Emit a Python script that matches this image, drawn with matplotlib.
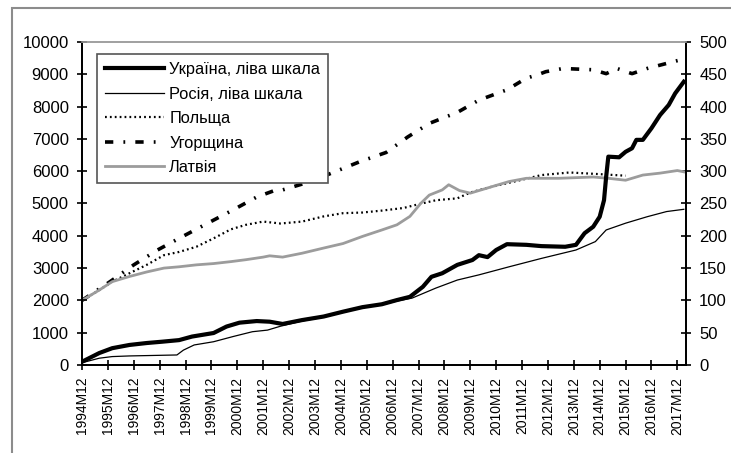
import matplotlib
matplotlib.use('Agg')
import matplotlib.pyplot as plt
from matplotlib.patches import Rectangle

plt.rcParams['font.family'] = ['Liberation Sans', 'DejaVu Sans']

# months since 1994M12
ukr_m = [0, 8, 14, 22, 30, 37, 45, 51, 61, 67, 73, 81, 87, 93, 102, 112, 121, 130, 139,
         146, 152, 158, 162, 167, 174, 181, 184, 188, 192, 197, 206, 213, 224, 229, 233,
         237, 240, 242, 243, 244, 249, 252, 255, 257, 260, 264, 268, 272, 275, 279]
ukr_v = [100, 370, 520, 620, 680, 720, 770, 880, 990, 1190, 1310, 1360, 1340, 1270, 1390,
         1500, 1650, 1790, 1880, 2010, 2110, 2420, 2730, 2840, 3100, 3250, 3400, 3340, 3560,
         3740, 3720, 3680, 3660, 3720, 4080, 4280, 4590, 5100, 5830, 6450, 6430, 6600, 6710,
         6970, 6970, 7330, 7740, 8050, 8410, 8770]

rus_m = [0, 8, 14, 22, 44, 47, 52, 61, 70, 79, 86, 92, 102, 112, 121, 130, 139, 146, 153,
         164, 174, 184, 198, 213, 229, 238, 243, 252, 262, 271, 279]
rus_v = [70, 210, 260, 280, 310, 460, 620, 720, 880, 1030, 1080, 1200, 1360, 1480, 1630,
         1770, 1860, 1980, 2070, 2380, 2630, 2790, 3040, 3300, 3560, 3820, 4180, 4390, 4590,
         4750, 4820]

pol_m = [0, 8, 14, 22, 30, 38, 45, 53, 61, 69, 76, 84, 92, 102, 112, 121, 130, 139, 149,
         155, 164, 174, 180, 190, 203, 213, 226, 237, 252]
pol_v = [100, 116, 129, 142, 155, 170, 175, 183, 196, 210, 217, 222, 219, 222, 230, 235,
         236, 239, 243, 248, 255, 258, 267, 276, 286, 294, 298, 296, 293]

hun_m = [0, 13, 24, 35, 45, 58, 70, 81, 90, 93, 106, 129, 141, 151, 161, 174, 184, 197,
         206, 211, 215, 223, 237, 243, 248, 255, 262, 277, 279]
hun_v = [100, 129, 155, 178, 196, 219, 240, 260, 271, 271, 284, 315, 329, 353, 374, 391,
         410, 426, 444, 449, 454, 459, 457, 451, 459, 451, 459, 472, 474]

lat_m = [0, 8, 14, 22, 30, 38, 45, 53, 61, 69, 76, 84, 87, 93, 102, 112, 121, 130, 139,
         146, 152, 157, 161, 167, 170, 175, 180, 190, 198, 206, 221, 237, 244, 252, 260,
         268, 276, 279]
lat_v = [100, 116, 129, 137, 144, 150, 152, 155, 157, 160, 163, 167, 169, 167, 173, 181,
         188, 199, 209, 217, 230, 250, 263, 271, 279, 270, 266, 276, 284, 289, 289, 291,
         289, 286, 294, 297, 301, 299]

tick_labels = [f'{y}M12' for y in range(1994, 2018)]

fig = plt.figure(figsize=(7.31, 4.53), dpi=100)
ax = fig.add_axes([0.1122, 0.1943, 0.8262, 0.7130])
ax2 = ax.twinx()

# outer chart frame
fig.patches.append(Rectangle((12 / 731, -0.05), 1.0, 1 - 8 / 453 + 0.05,
                             transform=fig.transFigure, fill=False,
                             edgecolor='#8c8c8c', linewidth=1.5))

l_hun, = ax2.plot(hun_m, hun_v, color='black', lw=2.6, dashes=(2.3, 2.8, 0.5, 2.8))
l_pol, = ax2.plot(pol_m, pol_v, color='black', lw=1.6, dashes=(0.8, 1.4))
l_lat, = ax2.plot(lat_m, lat_v, color='#9c9c9c', lw=2.0)
l_rus, = ax.plot(rus_m, rus_v, color='black', lw=0.9)
l_ukr, = ax.plot(ukr_m, ukr_v, color='black', lw=3.0)
ax.set_zorder(ax2.get_zorder() + 1)
ax.patch.set_visible(False)

ax.set_xlim(0, 280)
ax.set_ylim(0, 10000)
ax2.set_ylim(0, 500)
ax.set_yticks(range(0, 10001, 1000))
ax2.set_yticks(range(0, 501, 50))
ax.set_xticks(range(0, 277, 12))
ax.set_xticklabels(tick_labels, rotation=90)

for a in (ax, ax2):
    a.tick_params(direction='inout', length=7, width=1.2, labelsize=12, pad=6)
    for s in ('left', 'right', 'bottom'):
        a.spines[s].set_linewidth(1.3)
    a.spines['top'].set_color('#a0a0a0')
    a.spines['top'].set_linewidth(1.2)
ax.tick_params(axis='x', labelsize=10, pad=5)

leg = ax.legend([l_ukr, l_rus, l_pol, l_hun, l_lat],
                ['Україна, ліва шкала', 'Росія, ліва шкала', 'Польща', 'Угорщина', 'Латвія'],
                loc='upper left', bbox_to_anchor=(0.025, 0.963), fontsize=11.8,
                frameon=True, fancybox=False, edgecolor='#555555', framealpha=1,
                handlelength=3.6, borderpad=0.5, labelspacing=0.58, handletextpad=0.3,
                borderaxespad=0)
leg.get_frame().set_linewidth(1.2)

fig.savefig('out.png', dpi=100)
